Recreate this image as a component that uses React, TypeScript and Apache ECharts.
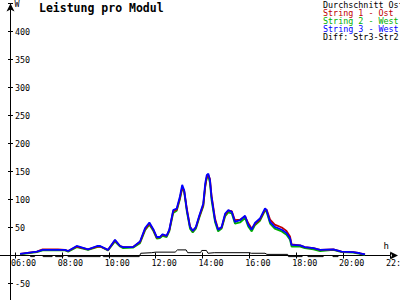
import React, { useEffect, useRef } from 'react';
import * as echarts from 'echarts';

const times = ['06:13','06:56','07:11','07:50','08:08','08:16','08:38','09:07','09:30','09:38','09:58','10:16','10:29','10:37','11:02','11:20','11:33','11:44','11:54','12:03','12:11','12:18','12:28','12:35','12:45','12:54','13:02','13:08','13:13','13:20','13:28','13:35','13:43','13:52','14:02','14:07','14:11','14:15','14:19','14:23','14:32','14:40','14:49','14:58','15:06','15:15','15:23','15:36','15:49','15:57','16:06','16:14','16:27','16:40','16:44','16:53','17:05','17:23','17:35','17:44','17:48','18:10','18:22','18:44','19:01','19:35','19:56','20:26','20:43','20:56'];

const string1Ost = [3,7,11,11,10,8,16,11,16,16,10,27,17,15,15,24,47,57,46,32,33,37,35,45,79,82,102,121,116,83,52,44,50,70,90,124,140,143,137,108,66,47,50,73,80,79,63,64,70,58,48,56,64,82,82,64,55,50,44,34,20,18,15,13,10,11,7,6,4,2];
const string2West = [2,6,9,9,9,7,15,10,15,16,9,25,16,13,14,22,45,55,44,30,31,35,33,43,76,80,100,120,114,78,48,41,48,68,88,123,139,141,130,100,60,43,48,70,77,75,57,59,67,52,43,54,62,80,78,57,48,43,37,28,16,16,13,11,8,10,6,5,3,1];
const string3West = [3,7,10,10,10,8,17,11,17,17,10,28,17,15,15,25,49,59,47,33,33,38,35,46,81,84,105,126,117,81,51,44,51,72,93,129,144,146,135,105,63,46,51,75,81,78,60,63,71,55,46,58,66,84,81,60,51,46,40,31,19,18,15,13,10,11,7,6,4,2];

const diffTimes = ['06:15','06:38','06:40','06:50','06:52','07:10','07:12','07:35','07:37','07:42','07:44','08:03','08:05','08:14','08:16','09:38','09:40','09:44','09:46','11:18','11:22','11:50','12:00','12:50','12:56','13:18','13:22','13:55','13:58','14:10','14:14','14:30','16:00','16:05','16:40','16:45','17:38','17:40','18:15','18:17','18:28','18:30','19:09','19:11','19:32','19:34','19:47','19:49','20:55'];
const diffValues = [0,0,-2,-2,0,0,-2,-2,0,0,-2,-2,0,0,-2,-2,0,0,-2,-2,4,5,6,6,10,10,5,5,9,9,4,5,5,4,4,2,2,-2,-2,0,0,-2,-2,0,0,-2,-2,0,0];

const yHidden = [0, 450, -100];

const FONT = '"DejaVu Sans Mono", monospace';

const toHours = (t: string) => {
  const [h, m] = t.split(':').map(Number);
  return h + m / 60;
};
const pad = (n: number) => (n < 10 ? '0' + n : String(n));

export default function App() {
  const ref = useRef<HTMLDivElement>(null);
  useEffect(() => {
    if (!ref.current) return;
    const chart = echarts.init(ref.current, undefined, { renderer: 'svg' });
    const pairs = (vals: number[]) => times.map((t, i) => [toHours(t), vals[i]]);
    const diffPairs = diffTimes.map((t, i) => [toHours(t), diffValues[i]]);
    const lineSeries = (name: string, color: string, data: number[][], width: number) => ({
      name,
      type: 'line',
      data,
      color,
      showSymbol: false,
      symbol: 'none',
      lineStyle: { color, width },
      xAxisIndex: 0,
      yAxisIndex: 0,
    });
    const xLabelFmt = (v: number) => (v < 6 ? '' : pad(Math.round(v)) + ':00');
    // zero line sits 56px above the grid bottom (-100 .. 0 = 100 W * 0.56 px/W)
    const xOffset = -56;
    const option: any = {
      animation: false,
      backgroundColor: '#ffffff',
      title: {
        text: 'Leistung pro Modul',
        left: 39,
        top: 1.5,
        padding: 0,
        textStyle: { fontFamily: FONT, fontSize: 11.5, fontWeight: 'bold', color: '#000' },
      },
      legend: {
        orient: 'vertical',
        left: 318,
        top: 0.5,
        padding: 0,
        itemGap: 0,
        itemWidth: 0,
        itemHeight: 7.5,
        icon: 'none',
        selectedMode: false,
        textStyle: { fontFamily: FONT, fontSize: 8.4, lineHeight: 7.5, padding: 0 },
        data: [
          { name: 'Durchschnitt Ost', textStyle: { color: '#000000' } },
          { name: 'String 1 - Ost', textStyle: { color: '#c00000' } },
          { name: 'String 2 - West', textStyle: { color: '#00b000' } },
          { name: 'String 3 - West', textStyle: { color: '#0000ff' } },
          { name: 'Diff: Str3-Str2', textStyle: { color: '#000000' } },
        ],
      },
      grid: {
        left: -31.875,
        right: 10,
        top: 3.5,
        bottom: -11.5,
        containLabel: false,
        outerBoundsMode: 'none',
      },
      xAxis: [
        {
          type: 'value',
          position: 'bottom',
          offset: xOffset,
          min: 4,
          max: 22,
          interval: 2,
          axisLine: {
            show: true,
            onZero: false,
            lineStyle: { color: '#000', width: 1 },
            symbol: ['none', 'arrow'],
            symbolSize: [6, 8],
            symbolOffset: [0, 8],
          },
          axisTick: { show: true, inside: true, length: 3, lineStyle: { color: '#000', width: 1 } },
          axisLabel: {
            formatter: xLabelFmt,
            fontFamily: FONT,
            fontSize: 8.4,
            color: '#000',
            margin: 3,
            align: 'center',
            padding: [0, 0, 0, 17],
          },
          splitLine: { show: false },
          name: 'h',
          nameLocation: 'end',
          nameGap: 0,
          nameTextStyle: {
            fontFamily: FONT,
            fontSize: 9,
            color: '#000',
            align: 'right',
            verticalAlign: 'bottom',
            padding: [0, 1, 5, 0],
          },
        },
        {
          type: 'value',
          position: 'bottom',
          offset: xOffset,
          min: 4,
          max: 22,
          interval: 2,
          axisLine: { show: true, onZero: false, lineStyle: { color: '#000', opacity: 0 } },
          axisTick: { show: true, inside: false, length: 3, lineStyle: { color: '#000', width: 1 } },
          axisLabel: { show: false },
          splitLine: { show: false },
        },
      ],
      yAxis: [
        {
          type: 'value',
          position: 'left',
          offset: -42.375,
          min: -100,
          max: 450,
          interval: 50,
          axisLine: {
            show: true,
            onZero: false,
            lineStyle: { color: '#000', width: 1 },
            symbol: ['none', 'arrow'],
            symbolSize: [6, 8],
          },
          axisTick: { show: true, inside: true, length: 2.5, lineStyle: { color: '#000', width: 1 } },
          axisLabel: {
            inside: true,
            margin: 4.5,
            formatter: (v: number) => (yHidden.includes(v) ? '' : String(v)),
            fontFamily: FONT,
            fontSize: 8.4,
            color: '#000',
          },
          splitLine: { show: false },
          name: 'W',
          nameLocation: 'end',
          nameGap: 0,
          nameTextStyle: {
            fontFamily: FONT,
            fontSize: 8.4,
            color: '#000',
            align: 'left',
            verticalAlign: 'middle',
            padding: [0, 0, 0, 4],
          },
        },
        {
          type: 'value',
          position: 'left',
          offset: -42.375,
          min: -100,
          max: 450,
          interval: 50,
          axisLine: { show: true, onZero: false, lineStyle: { color: '#000', opacity: 0 } },
          axisTick: { show: true, inside: false, length: 2.5, lineStyle: { color: '#000', width: 1 } },
          axisLabel: { show: false },
          splitLine: { show: false },
        },
      ],
      series: [
        { name: 'Durchschnitt Ost', type: 'line', data: [], color: '#000', showSymbol: false },
        lineSeries('Diff: Str3-Str2', '#000000', diffPairs, 1),
        lineSeries('String 2 - West', '#00b000', pairs(string2West), 1.8),
        lineSeries('String 1 - Ost', '#c00000', pairs(string1Ost), 1.8),
        lineSeries('String 3 - West', '#0000ff', pairs(string3West), 1.8),
      ],
    };
    chart.setOption(option);
    return () => chart.dispose();
  }, []);
  return (
    <div
      ref={ref}
      style={{ position: 'fixed', left: 0, top: 0, width: 400, height: 300, background: '#fff' }}
    />
  );
}
